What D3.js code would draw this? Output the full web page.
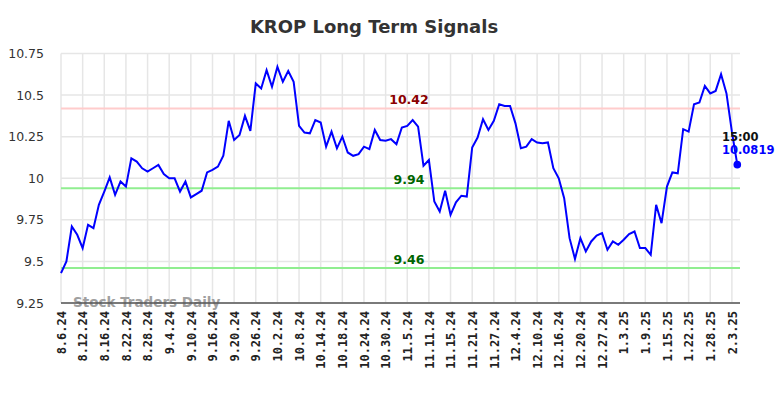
<!DOCTYPE html>
<html>
<head>
<meta charset="utf-8">
<script src="https://cdn.jsdelivr.net/npm/d3@7"></script>
<style>
  html, body { margin: 0; padding: 0; background: #fff; }
  svg { display: block; }
</style>
</head>
<body>
<script>
// chart size
const size = { width: 784, height: 398 };

// plot area
const plot = { left: 61, right: 740, top: 53.5, bottom: 303 };

// closing values, one per trading day (8.6.24 .. 2.4.25)
const closes = [
  9.43, 9.50, 9.71, 9.66, 9.58, 9.72, 9.70, 9.84, 9.92, 10.005,
  9.90, 9.98, 9.95, 10.12, 10.10, 10.06, 10.04, 10.06, 10.08, 10.025,
  10.00, 10.00, 9.92, 9.98, 9.885, 9.905, 9.925, 10.035, 10.05, 10.07,
  10.135, 10.345, 10.23, 10.26, 10.375, 10.285, 10.57, 10.54, 10.65, 10.55,
  10.67, 10.58, 10.645, 10.58, 10.315, 10.275, 10.27, 10.35, 10.335, 10.19,
  10.28, 10.18, 10.25, 10.155, 10.135, 10.145, 10.19, 10.175, 10.29, 10.23,
  10.225, 10.235, 10.205, 10.305, 10.315, 10.35, 10.31, 10.075, 10.11, 9.86,
  9.80, 9.925, 9.78, 9.855, 9.895, 9.89, 10.185, 10.245, 10.355, 10.29,
  10.345, 10.445, 10.435, 10.435, 10.33, 10.18, 10.19, 10.235, 10.215, 10.21,
  10.215, 10.06, 10.00, 9.88, 9.64, 9.515, 9.64, 9.56, 9.62, 9.655,
  9.67, 9.57, 9.62, 9.60, 9.63, 9.665, 9.68, 9.58, 9.58, 9.54,
  9.84, 9.73, 9.95, 10.035, 10.03, 10.295, 10.28, 10.445, 10.455, 10.555,
  10.51, 10.525, 10.625, 10.51, 10.28, 10.0819,
];

// x tick labels (every 4th trading day)
const xTickLabels = [
  "8.6.24", "8.12.24", "8.16.24", "8.22.24", "8.28.24", "9.4.24", "9.10.24", "9.16.24",
  "9.20.24", "9.26.24", "10.2.24", "10.8.24", "10.14.24", "10.18.24", "10.24.24", "10.30.24",
  "11.5.24", "11.11.24", "11.15.24", "11.21.24", "11.27.24", "12.4.24", "12.10.24", "12.16.24",
  "12.20.24", "12.27.24", "1.3.25", "1.9.25", "1.15.25", "1.22.25", "1.28.25", "2.3.25",
];

// y ticks
const yTicks = [9.25, 9.5, 9.75, 10, 10.25, 10.5, 10.75];

// signal levels
const levels = [10.42, 9.94, 9.46];
const levelKinds = ["high", "low", "low"];

// last point label
const lastTime = "15:00";
const lastValue = 10.0819;

const svg = d3.select("body").append("svg")
  .attr("width", size.width)
  .attr("height", size.height);

const x = d3.scaleLinear().domain([0, closes.length - 0.5]).range([plot.left, plot.right]);
const y = d3.scaleLinear().domain([9.25, 10.75]).range([plot.bottom, plot.top]);

const tickIdx = xTickLabels.map((d, i) => i * 4);

// title
svg.append("text")
  .attr("x", 374)
  .attr("y", 33)
  .attr("text-anchor", "middle")
  .attr("font-family", "DejaVu Sans")
  .attr("font-weight", "bold")
  .attr("font-size", 18)
  .attr("fill", "#333")
  .text("KROP Long Term Signals");

// grid
const grid = svg.append("g");
grid.selectAll(".vgrid")
  .data(tickIdx)
  .enter()
  .append("line")
  .attr("x1", (d) => x(d))
  .attr("x2", (d) => x(d))
  .attr("y1", plot.top)
  .attr("y2", plot.bottom)
  .attr("stroke", "#e6e6e6")
  .attr("stroke-width", 1.5);
grid.selectAll(".hgrid")
  .data(yTicks)
  .enter()
  .append("line")
  .attr("x1", plot.left)
  .attr("x2", plot.right)
  .attr("y1", (d) => y(d))
  .attr("y2", (d) => y(d))
  .attr("stroke", "#e6e6e6")
  .attr("stroke-width", 1.5);

// y axis labels
const yAxis = svg.append("g")
  .attr("transform", `translate(${plot.left}, 0)`)
  .call(d3.axisLeft(y).tickValues(yTicks).tickSize(0).tickPadding(17).tickFormat(d3.format("")));
yAxis.select(".domain").remove();
yAxis.selectAll("text")
  .attr("font-family", "DejaVu Sans")
  .attr("font-size", 12.5)
  .attr("fill", "#333");

// watermark
svg.append("text")
  .attr("x", 73)
  .attr("y", 307)
  .attr("font-family", "DejaVu Sans")
  .attr("font-weight", "bold")
  .attr("font-size", 13.5)
  .attr("fill", "#a0a0a0")
  .text("Stock Traders Daily");

// x axis
const xAxis = svg.append("g")
  .attr("transform", `translate(0, ${plot.bottom})`)
  .call(d3.axisBottom(x).tickValues(tickIdx).tickSize(0).tickFormat((d, i) => xTickLabels[i]));
xAxis.select(".domain")
  .attr("d", `M${plot.left},0H${plot.right}`)
  .attr("stroke", "#555")
  .attr("stroke-width", 1.5);
xAxis.selectAll("text")
  .attr("font-family", "DejaVu Sans Mono")
  .attr("font-weight", "bold")
  .attr("font-size", 12)
  .attr("fill", "#222")
  .attr("text-anchor", "end")
  .attr("dy", "0.35em")
  .attr("transform", "translate(0, 8) rotate(-90)")
  .attr("x", 0)
  .attr("y", 0);

// signal lines
svg.selectAll(".level")
  .data(levels)
  .enter()
  .append("line")
  .attr("x1", plot.left)
  .attr("x2", plot.right)
  .attr("y1", (d) => y(d))
  .attr("y2", (d) => y(d))
  .attr("stroke", (d, i) => (levelKinds[i] === "high" ? "#ffcccc" : "#90ee90"))
  .attr("stroke-width", 2);

svg.selectAll(".level-label")
  .data(levels)
  .enter()
  .append("text")
  .attr("x", 409)
  .attr("y", (d) => y(d) - 4)
  .attr("text-anchor", "middle")
  .attr("font-family", "DejaVu Sans")
  .attr("font-weight", "bold")
  .attr("font-size", 12.5)
  .attr("fill", (d, i) => (levelKinds[i] === "high" ? "#8b0000" : "#006400"))
  .text((d) => d3.format(".2f")(d));

// price line
const line = d3.line()
  .x((d, i) => x(i))
  .y((d) => y(d));
svg.append("path")
  .datum(closes)
  .attr("fill", "none")
  .attr("stroke", "#0000ff")
  .attr("stroke-width", 2)
  .attr("d", line);

// last point
const lastIdx = closes.length - 1;
svg.append("circle")
  .attr("cx", x(lastIdx))
  .attr("cy", y(lastValue))
  .attr("r", 3.8)
  .attr("fill", "#0000ff");

svg.append("text")
  .attr("x", 722)
  .attr("y", 141)
  .attr("font-family", "DejaVu Sans")
  .attr("font-weight", "bold")
  .attr("font-size", 11.5)
  .attr("fill", "#111")
  .text(lastTime);

svg.append("text")
  .attr("x", 722)
  .attr("y", 154)
  .attr("font-family", "DejaVu Sans")
  .attr("font-weight", "bold")
  .attr("font-size", 11.5)
  .attr("fill", "#0000ff")
  .text(lastValue);
</script>
</body>
</html>
